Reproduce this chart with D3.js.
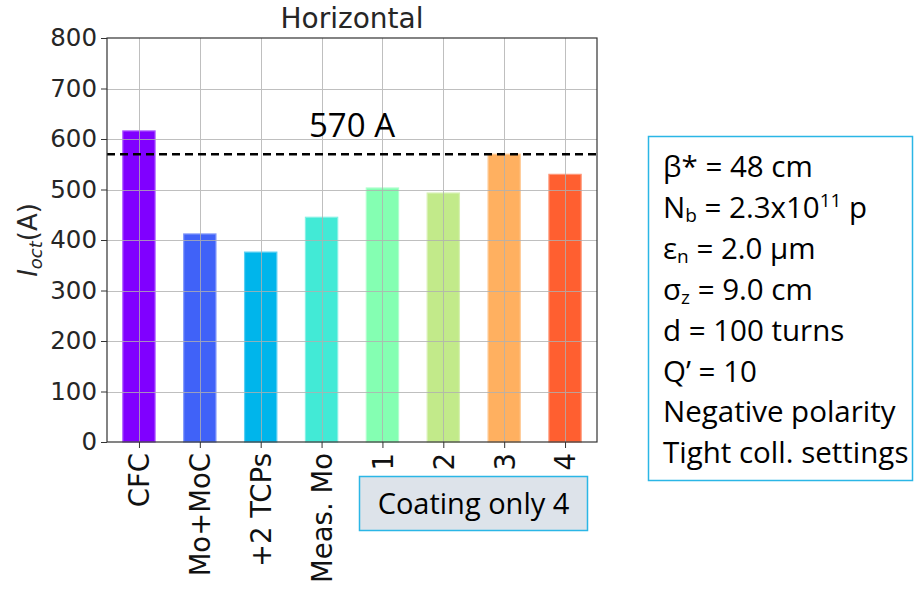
<!DOCTYPE html>
<html>
<head>
<meta charset="utf-8">
<script src="https://cdn.jsdelivr.net/npm/d3@7"></script>
<style>
  html, body { margin: 0; padding: 0; background: #ffffff; }
  svg { display: block; }
</style>
</head>
<body>
<svg id="chart" width="924" height="595"></svg>
<script>
// Octupole current threshold per collimator configuration
const categories = ["CFC", "Mo+MoC", "+2 TCPs", "Meas. Mo", "1", "2", "3", "4"];
const values = [616, 412, 376, 445, 503, 493, 570, 530];
const barColors = ["#8000ff", "#4062f8", "#00b5eb", "#42ead6", "#84ffb2", "#c2ea8a", "#ffb060", "#ff5f30"];
const yTicks = [0, 100, 200, 300, 400, 500, 600, 700, 800];
const threshold = 570;
const thresholdLabel = "570 A";
// Each line: [text, subscript, text, superscript, text]
const paramLines = [
  ["β* = 48 cm"],
  ["N", "b", " = 2.3x10", "11", " p"],
  ["ε", "n", " = 2.0 μm"],
  ["σ", "z", " = 9.0 cm"],
  ["d = 100 turns"],
  ["Q’ = 10"],
  ["Negative polarity"],
  ["Tight coll. settings"]
];

const svg = d3.select("#chart");
const plot = { left: 107, right: 597, top: 38, bottom: 442 };
const tickFont = "'DejaVu Sans', sans-serif";
const slideFont = "'Open Sans', 'Noto Sans', sans-serif";

const x = d3.scaleLinear().domain([-0.525, categories.length - 0.475]).range([plot.left, plot.right]);
const y = d3.scaleLinear().domain([0, 800]).range([plot.bottom, plot.top]);
const barWidth = 0.53;

// Bars
const g = svg.append("g");
g.selectAll("rect.bar")
  .data(values)
  .join("rect")
  .attr("class", "bar")
  .attr("x", (d, i) => x(i - barWidth / 2))
  .attr("width", x(barWidth) - x(0))
  .attr("y", d => y(d))
  .attr("height", d => y(0) - y(d))
  .attr("fill", (d, i) => barColors[i])
  .attr("stroke", (d, i) => d3.interpolateRgb(barColors[i], "#ffffff")(0.35))
  .attr("stroke-width", 1.2);

// Grid (drawn over the bars)
const grid = svg.append("g").attr("stroke", "#b0b0b0").attr("stroke-width", 1).attr("opacity", 0.8);
grid.selectAll("line.h")
  .data(yTicks.slice(1, -1))
  .join("line")
  .attr("x1", plot.left).attr("x2", plot.right)
  .attr("y1", d => Math.round(y(d)) + 0.5).attr("y2", d => Math.round(y(d)) + 0.5);
grid.selectAll("line.v")
  .data(categories)
  .join("line")
  .attr("y1", plot.top).attr("y2", plot.bottom)
  .attr("x1", (d, i) => Math.round(x(i)) + 0.5).attr("x2", (d, i) => Math.round(x(i)) + 0.5);

// Threshold line
svg.append("line")
  .attr("x1", plot.left).attr("x2", plot.right)
  .attr("y1", y(threshold)).attr("y2", y(threshold))
  .attr("stroke", "#000").attr("stroke-width", 2.5)
  .attr("stroke-dasharray", "8,5");

svg.append("text")
  .attr("x", 309).attr("y", 137)
  .attr("font-family", slideFont).attr("font-size", 33)
  .attr("fill", "#000")
  .text(thresholdLabel);

// Axes
const yAxis = d3.axisLeft(y).tickValues(yTicks).tickSize(6).tickPadding(4);
const yG = svg.append("g").attr("transform", `translate(${plot.left},0)`).call(yAxis);
yG.select(".domain").remove();
yG.selectAll("text").attr("font-family", tickFont).attr("font-size", 24.5).attr("fill", "#262626");
yG.selectAll("line").attr("stroke", "#333");

const xAxis = d3.axisBottom(x).tickValues(d3.range(categories.length)).tickFormat(i => categories[i]).tickSize(6).tickPadding(6);
const xG = svg.append("g").attr("transform", `translate(0,${plot.bottom})`).call(xAxis);
xG.select(".domain").remove();
xG.selectAll("line").attr("stroke", "#333");
xG.selectAll("text")
  .attr("font-family", tickFont).attr("font-size", 27.5).attr("fill", "#111")
  .attr("transform", "rotate(-90)")
  .attr("text-anchor", "end")
  .attr("x", -11).attr("y", 0).attr("dy", "0.36em");

// Frame
svg.append("rect")
  .attr("x", plot.left).attr("y", plot.top)
  .attr("width", plot.right - plot.left).attr("height", plot.bottom - plot.top)
  .attr("fill", "none").attr("stroke", "#333").attr("stroke-width", 1.2);

// Title
svg.append("text")
  .attr("x", (plot.left + plot.right) / 2).attr("y", 28)
  .attr("text-anchor", "middle")
  .attr("font-family", tickFont).attr("font-size", 28).attr("fill", "#262626")
  .text("Horizontal");

// Y label
const yl = svg.append("text")
  .attr("transform", `translate(37,${(plot.top + plot.bottom) / 2}) rotate(-90)`)
  .attr("text-anchor", "middle")
  .attr("font-family", tickFont).attr("font-size", 26).attr("fill", "#262626");
yl.append("tspan").attr("font-style", "italic").text("I");
yl.append("tspan").attr("font-style", "italic").attr("font-size", 18).attr("dy", 5).text("oct");
yl.append("tspan").attr("dy", -5).text("(A)");

// "Coating only 4" box
svg.append("rect")
  .attr("x", 359.5).attr("y", 476.5).attr("width", 228).attr("height", 54)
  .attr("fill", "#dde3ea").attr("stroke", "#2bb6e6").attr("stroke-width", 1.5);
svg.append("text")
  .attr("x", 473.5).attr("y", 514)
  .attr("text-anchor", "middle")
  .attr("font-family", slideFont).attr("font-size", 29).attr("fill", "#000")
  .text("Coating only 4");

// Parameter box
svg.append("rect")
  .attr("x", 648.5).attr("y", 136.5).attr("width", 264).attr("height", 344)
  .attr("fill", "#fff").attr("stroke", "#2bb6e6").attr("stroke-width", 1.5);
const params = svg.append("g").attr("font-family", slideFont).attr("font-size", 29.5).attr("fill", "#000");
paramLines.forEach((parts, li) => {
  const t = params.append("text").attr("x", 663).attr("y", 177 + li * 40.9);
  let shift = 0;
  parts.forEach((p, pi) => {
    const ts = t.append("tspan").text(p);
    let target = 0;
    if (pi === 1) { target = 4; ts.attr("font-size", 19); }
    if (pi === 3) { target = -11; ts.attr("font-size", 19); }
    if (target - shift !== 0) ts.attr("dy", target - shift);
    shift = target;
  });
});
</script>
</body>
</html>
